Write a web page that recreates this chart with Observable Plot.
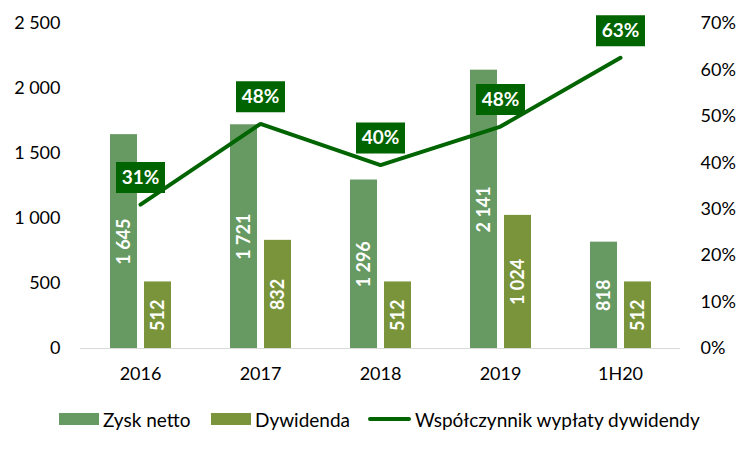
<!DOCTYPE html>
<html>
<head>
<meta charset="utf-8">
<script src="https://cdn.jsdelivr.net/npm/d3@7"></script>
<script src="https://cdn.jsdelivr.net/npm/@observablehq/plot@0.6"></script>
<style>
  html, body { margin: 0; padding: 0; background: #fff; }
  #wrap { position: relative; width: 751px; height: 451px; font-family: Lato, sans-serif; }
  .leg { position: absolute; top: 408px; height: 22px; display: flex; align-items: center; font-size: 19px; color: #000; white-space: nowrap; }
  .sw { width: 40px; height: 12px; margin-right: 4px; }
  .ln { width: 43px; height: 4px; border-radius: 2px; margin-right: 4px; }
</style>
</head>
<body>
<div id="wrap"></div>
<script>
const categories = ["2016", "2017", "2018", "2019", "1H20"];
const zyskNetto = [1645, 1721, 1296, 2141, 818];
const dywidenda = [512, 832, 512, 1024, 512];
const wspolczynnik = [0.31, 0.484, 0.395, 0.478, 0.626];
const wspolczynnikLabels = ["31%", "48%", "40%", "48%", "63%"];
const leftTicks = [0, 500, 1000, 1500, 2000, 2500];
const rightTicks = [0, 0.1, 0.2, 0.3, 0.4, 0.5, 0.6, 0.7];
const seriesNames = ["Zysk netto", "Dywidenda", "Współczynnik wypłaty dywidendy"];

const colZysk = "#679a62";
const colDyw = "#7a943c";
const colLine = "#006400";

const yMax = 2500, rMax = 0.7;
const toY = r => r * yMax / rMax;
const loc = d3.formatLocale({decimal: ",", thousands: "\u00a0", grouping: [3]});
const fmt = loc.format(",d");

const rows = categories.map((c, i) => ({
  cat: c, zysk: zyskNetto[i], dyw: dywidenda[i], ratio: wspolczynnik[i], rlabel: wspolczynnikLabels[i]
}));

const boxSymbol = { draw(ctx) { ctx.rect(-24.5, -15.5, 49, 31); } };

const chart = Plot.plot({
  width: 751,
  height: 400,
  marginLeft: 80,
  marginRight: 71,
  marginTop: 23,
  marginBottom: 52,
  style: { fontFamily: "Lato, sans-serif", fontSize: "18px", color: "#000", background: "#fff" },
  x: { type: "band", domain: categories, padding: 0, label: null },
  y: { domain: [0, yMax], label: null },
  marks: [
    Plot.ruleY([0], { stroke: "#d9d9d9", strokeWidth: 1 }),
    Plot.barY(rows, { x: "cat", y: "zysk", fill: colZysk, insetLeft: 30, insetRight: 63 }),
    Plot.barY(rows, { x: "cat", y: "dyw", fill: colDyw, insetLeft: 64, insetRight: 29 }),
    Plot.text(rows, { x: "cat", y: d => d.zysk / 2, text: d => fmt(d.zysk), rotate: -90, dx: -16.5, fill: "#fff", fontWeight: "bold", fontSize: 18 }),
    Plot.text(rows, { x: "cat", y: d => d.dyw / 2, text: d => fmt(d.dyw), rotate: -90, dx: 17.5, fill: "#fff", fontWeight: "bold", fontSize: 18 }),
    Plot.line(rows, { x: "cat", y: d => toY(d.ratio), stroke: colLine, strokeWidth: 4, strokeLinecap: "round", strokeLinejoin: "miter" }),
    Plot.dot(rows, { x: "cat", y: d => toY(d.ratio), dy: -27, symbol: boxSymbol, r: 10, fill: colLine, stroke: "none" }),
    Plot.text(rows, { x: "cat", y: d => toY(d.ratio), dy: -27, text: "rlabel", fill: "#fff", fontWeight: "bold", fontSize: 19 }),
    Plot.axisY(leftTicks, { anchor: "left", tickSize: 0, tickPadding: 20, tickFormat: fmt, label: null }),
    Plot.axisY(rightTicks.map(toY), { anchor: "right", tickSize: 0, tickPadding: 20, tickFormat: d => Math.round(d / yMax * rMax * 100) + "%", label: null }),
    Plot.axisX({ tickSize: 0, tickPadding: 19, label: null })
  ]
});

const wrap = document.getElementById("wrap");
wrap.appendChild(chart);

const legendItems = [
  { name: seriesNames[0], left: 59, kind: "sw", color: colZysk },
  { name: seriesNames[1], left: 211, kind: "sw", color: colDyw },
  { name: seriesNames[2], left: 368, kind: "ln", color: colLine }
];
for (const it of legendItems) {
  const div = document.createElement("div");
  div.className = "leg";
  div.style.left = it.left + "px";
  const s = document.createElement("span");
  s.className = it.kind;
  s.style.background = it.color;
  const t = document.createElement("span");
  t.textContent = it.name;
  div.appendChild(s);
  div.appendChild(t);
  wrap.appendChild(div);
}
</script>
</body>
</html>
